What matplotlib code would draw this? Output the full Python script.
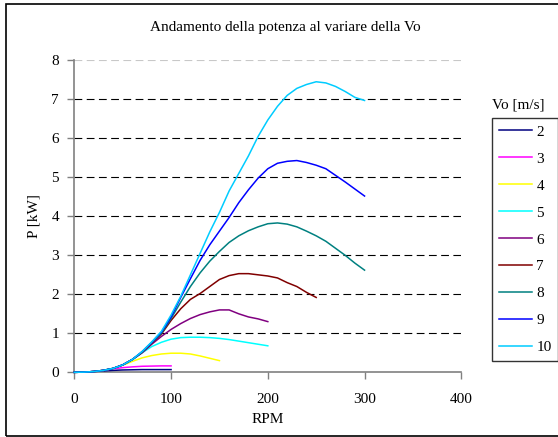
import numpy as np
import matplotlib.pyplot as plt
from matplotlib.patches import Rectangle

plt.rcParams['font.family'] = ['Liberation Serif', 'DejaVu Serif']

# RPM sampled every 10
rpm = np.arange(0, 310, 10)

# P [kW] for each wind speed Vo [m/s]
p_v2 = [0, 0.005, 0.02, 0.035, 0.05, 0.06, 0.065, 0.07, 0.07, 0.07, 0.07]
p_v3 = [0, 0.005, 0.02, 0.05, 0.09, 0.12, 0.14, 0.155, 0.16, 0.165, 0.165]
p_v4 = [0, 0.005, 0.02, 0.05, 0.1, 0.18, 0.28, 0.37, 0.43, 0.47, 0.49,
        0.49, 0.47, 0.42, 0.36, 0.30]
p_v5 = [0, 0.005, 0.02, 0.05, 0.1, 0.19, 0.32, 0.5, 0.66, 0.77, 0.85,
        0.89, 0.9, 0.9, 0.89, 0.87, 0.84, 0.8, 0.76, 0.72, 0.68]
p_v6 = [0, 0.005, 0.02, 0.05, 0.1, 0.19, 0.33, 0.5, 0.72, 0.92, 1.1,
        1.25, 1.38, 1.48, 1.55, 1.6, 1.6, 1.5, 1.42, 1.37, 1.3]
p_v7 = [0, 0.005, 0.02, 0.05, 0.1, 0.19, 0.33, 0.51, 0.75, 0.98, 1.33,
        1.63, 1.87, 2.02, 2.2, 2.38, 2.48, 2.53, 2.53, 2.5, 2.47,
        2.42, 2.3, 2.2, 2.05, 1.92]
p_v8 = [0, 0.005, 0.02, 0.05, 0.1, 0.19, 0.33, 0.52, 0.76, 1.0, 1.38,
        1.8, 2.2, 2.55, 2.85, 3.1, 3.33, 3.5, 3.63, 3.73, 3.81,
        3.83, 3.8, 3.73, 3.62, 3.5, 3.36, 3.18, 3.0, 2.8, 2.62]
p_v9 = [0, 0.005, 0.02, 0.05, 0.1, 0.19, 0.33, 0.53, 0.77, 1.03, 1.42,
        1.92, 2.4, 2.87, 3.27, 3.62, 3.97, 4.35, 4.68, 4.98, 5.22,
        5.36, 5.41, 5.43, 5.38, 5.31, 5.22, 5.05, 4.88, 4.7, 4.52]
p_v10 = [0, 0.005, 0.02, 0.05, 0.1, 0.19, 0.33, 0.53, 0.78, 1.05, 1.47,
         1.95, 2.5, 3.05, 3.6, 4.1, 4.65, 5.1, 5.55, 6.05, 6.47,
         6.82, 7.1, 7.28, 7.38, 7.45, 7.42, 7.33, 7.2, 7.05, 6.97]

labels = ['2', '3', '4', '5', '6', '7', '8', '9', '10']
series = [p_v2, p_v3, p_v4, p_v5, p_v6, p_v7, p_v8, p_v9, p_v10]
colors = ['#000080', '#FF00FF', '#FFFF00', '#00FFFF', '#800080',
          '#800000', '#008080', '#0000FF', '#00CCFF']

fig = plt.figure(figsize=(5.58, 4.37), dpi=100)
ax = fig.add_axes([0.1332, 0.148, 0.6935, 0.714])

for lab, vals, col in zip(labels, series, colors):
    ax.plot(rpm[:len(vals)], vals, color=col, lw=1.1, label=lab,
            clip_on=False, zorder=3)

ax.set_xlim(0, 400)
ax.set_ylim(0, 8)
ax.set_xticks([0, 100, 200, 300, 400])
ax.set_yticks(range(0, 9))
ax.tick_params(labelsize=11, length=5, width=1, color='#808080', direction='out')
ax.tick_params(axis='y', pad=6)
ax.tick_params(axis='x', pad=10)

for s in ['top', 'right']:
    ax.spines[s].set_visible(False)
for s in ['left', 'bottom']:
    ax.spines[s].set_color('#808080')
    ax.spines[s].set_linewidth(1.2)

ax.grid(axis='y', color='black', lw=0.8, linestyle=(0, (7, 4)))
ax.yaxis.get_gridlines()[0].set_visible(False)
ax.yaxis.get_gridlines()[-1].set_color('#c8c8c8')
ax.set_axisbelow(True)

ax.set_xlabel('RPM', fontsize=11, labelpad=5)
ax.set_ylabel('P [kW]', fontsize=11, labelpad=8)

fig.text(285 / 558, 1 - 27 / 437, 'Andamento della potenza al variare della Vo',
         ha='center', va='center', fontsize=11)

fig.text(518 / 558, 1 - 105 / 437, 'Vo [m/s]', ha='center', va='center', fontsize=11)
leg = fig.legend(loc='upper left', bbox_to_anchor=(492 / 558, 1 - 118 / 437),
                 fontsize=11, frameon=True, fancybox=False, borderaxespad=0,
                 handlelength=2.15, handletextpad=0.3, labelspacing=0.87,
                 borderpad=0.45)
leg.get_frame().set_edgecolor('black')
leg.get_frame().set_linewidth(1.0)

fig.patches.append(Rectangle((6 / 558, 1 / 437), 560 / 558, 432 / 437,
                             transform=fig.transFigure, fill=False,
                             edgecolor='black', lw=1.2))

plt.savefig('out.png', dpi=100)
